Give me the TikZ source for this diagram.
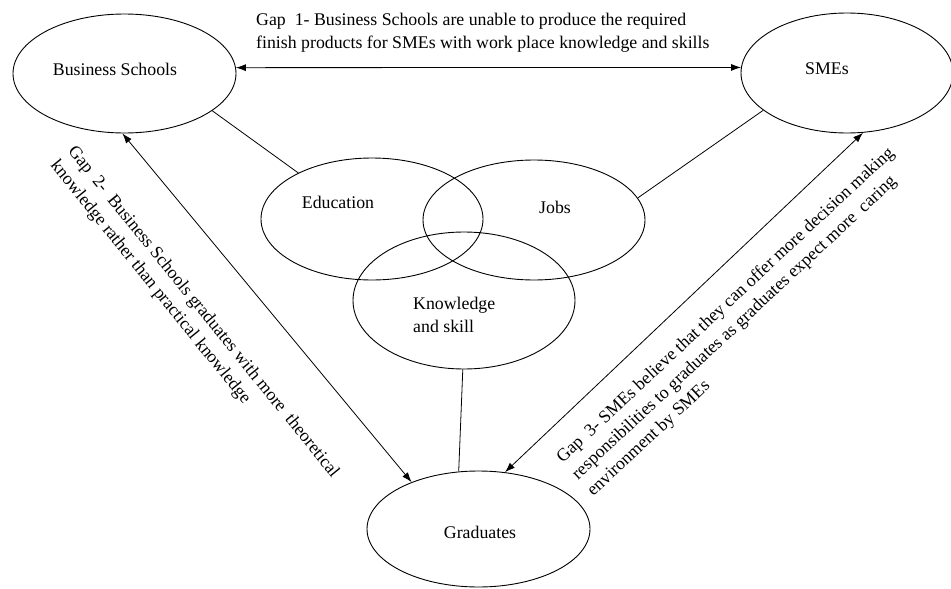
\documentclass[tikz,border=0pt]{standalone}
\usepackage{fontspec}
\setmainfont{Liberation Serif}
\usetikzlibrary{shapes.geometric,arrows.meta}

\begin{document}
\begin{tikzpicture}[x=1pt, y=-1pt,
  oval/.style={draw, ellipse, line width=0.9pt, inner sep=0pt},
  txt/.style={font=\fontsize{17.8}{22.5}\selectfont, inner sep=0pt},
  gaptext/.style={txt, align=left, anchor=west},
  link/.style={line width=0.8pt},
  twoway/.style={line width=0.8pt, {Latex[length=10pt,width=7pt]}-{Latex[length=10pt,width=7pt]}}]

\useasboundingbox (0,0) rectangle (951,589);


% Business Schools and SMEs
\node[oval, minimum width=223pt, minimum height=119pt] (bs) at (124.5,73.5) {};
\node[txt] (bstext) at (115,69) {Business Schools};

\node[oval, minimum width=212pt, minimum height=120pt] (sme) at (847,73) {};
\node[txt] (smetext) at (827,69) {SMEs};


% Three overlapping ovals
\node[oval, minimum width=222pt, minimum height=122pt] (edu) at (372,219) {};
\node[txt] (edutext) at (338,202) {Education};

\node[oval, minimum width=222pt, minimum height=120pt] (jobs) at (534,220) {};
\node[txt] (jobstext) at (555,207) {Jobs};

\node[oval, minimum width=222pt, minimum height=137pt] (know) at (464,300.5) {};
\node[gaptext] (knowtext) at (413,315) {Knowledge\\and skill};


% Graduates
\node[oval, minimum width=223pt, minimum height=116pt] (grad) at (478.5,529) {};
\node[txt] (gradtext) at (480,532) {Graduates};


% Plain links
\draw[link] (bs.-23) -- (edu.148);
\draw[link] (sme.204) -- (jobs.12);
\draw[link] (know.-91) -- (grad.109);


% Gap 1
\draw[twoway] (bs.3) -- (sme.177);
\node[gaptext] (gap1) at (256,32.5)
  {Gap\ \ 1- Business Schools are unable to produce the required\\
   finish products for SMEs with work place knowledge and skills};

% Gap 2
\draw[twoway] (bs.-92) -- (grad.145);
\node[gaptext, rotate=-51] (gap2) at (62,156)
  {Gap\ \ 2-\ \ Business Schools graduates with more\ \ theoretical\\
   knowledge rather than practical knowledge};

% Gap 3
\draw[twoway] (sme.-75) -- (grad.65);
\node[gaptext, rotate=43] (gap3) at (575,477)
  {Gap\ \ 3- SMEs believe that they can offer more decision making\\
   responsibilities to graduates as graduates expect more\ \ caring\\
   environment by SMEs};

\end{tikzpicture}
\end{document}
